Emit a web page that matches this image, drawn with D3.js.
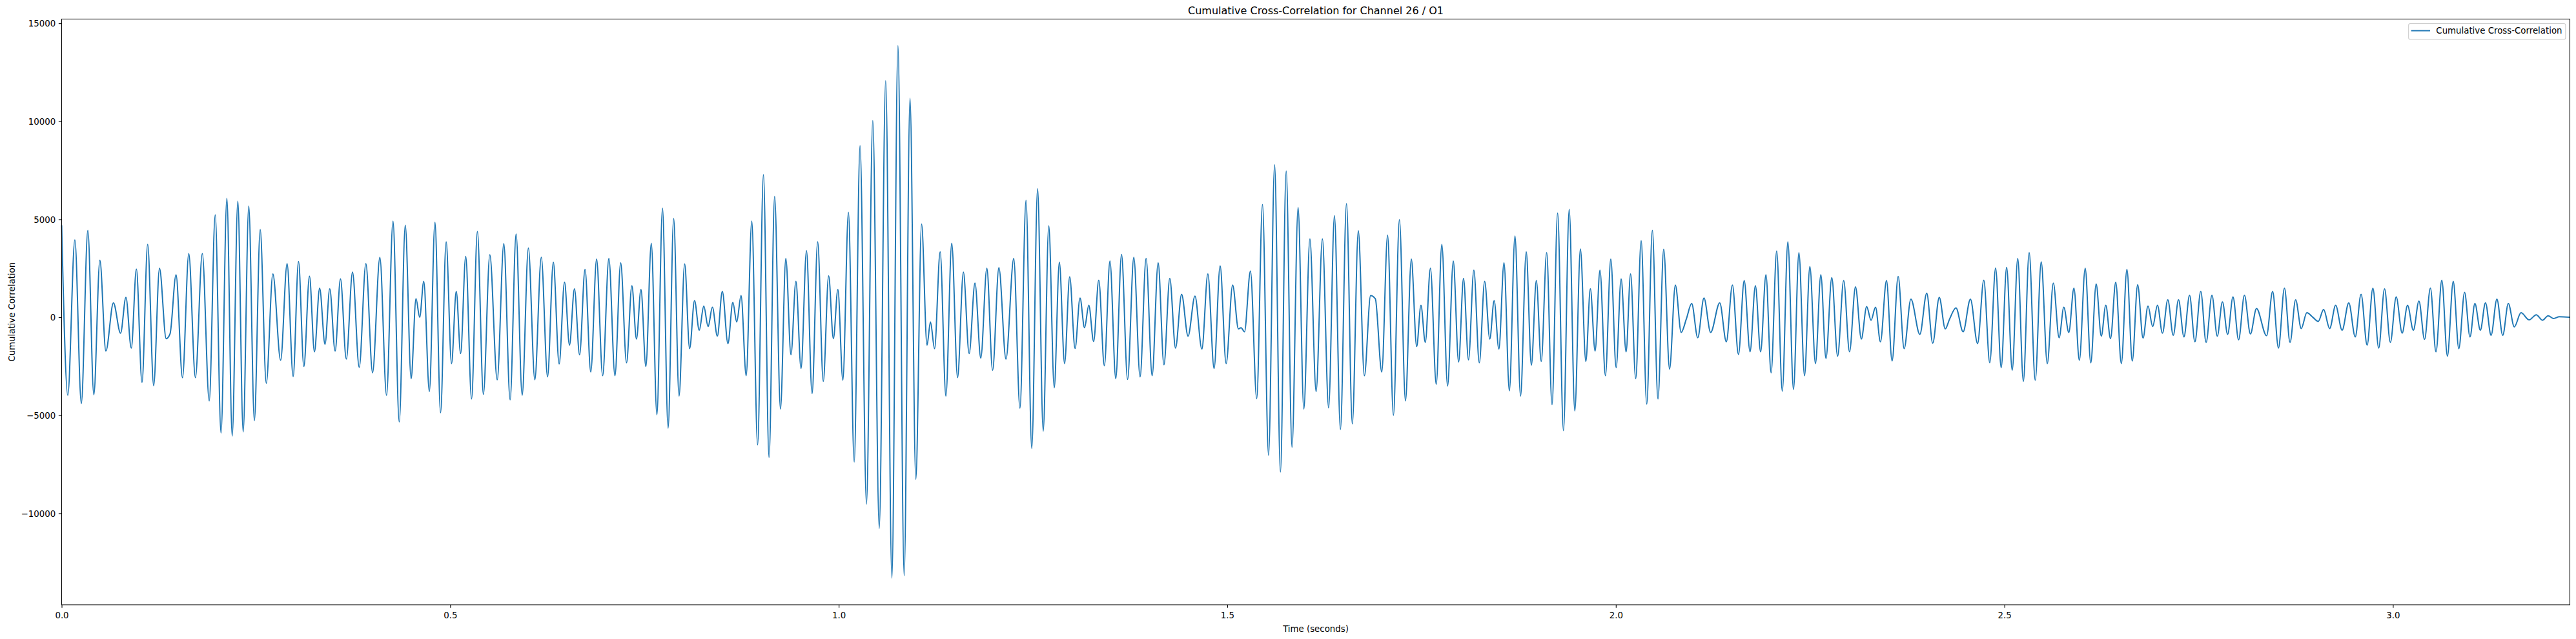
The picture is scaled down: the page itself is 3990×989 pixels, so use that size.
<!DOCTYPE html>
<html>
<head>
<meta charset="utf-8">
<script src="https://cdn.jsdelivr.net/npm/d3@7"></script>
<style>
  html, body { margin: 0; padding: 0; background: #fff; }
  svg { display: block; font-family: "DejaVu Sans", sans-serif; }
</style>
</head>
<body>
<svg width="3990" height="989"></svg>
<script>
// turning points of the trace: [time (s), correlation]
var seg1 = [
  [0.0000, 4700], [0.0079, -3980], [0.0170, 3950], [0.0253, -4400], [0.0337, 4440], [0.0414, -3950],
  [0.0492, 2910], [0.0569, -1720], [0.0666, 740], [0.0758, -810], [0.0827, 1020], [0.0896, -1570],
  [0.0962, 2460], [0.1034, -3320], [0.1107, 3720], [0.1184, -3490], [0.1259, 2500], [0.1345, -1090],
  [0.1395, -840], [0.1472, 2170], [0.1555, -3080], [0.1636, 3250], [0.1721, -3080], [0.1810, 3250],
  [0.1899, -4270], [0.1976, 5230], [0.2051, -5910], [0.2126, 6080], [0.2195, -6060], [0.2267, 5930],
  [0.2336, -5850], [0.2408, 5670], [0.2480, -5280], [0.2555, 4480], [0.2633, -3360], [0.2718, 2210],
  [0.2818, -2190], [0.2901, 2740], [0.2979, -3020], [0.3048, 2850], [0.3117, -2510], [0.3189, 2100],
  [0.3253, -1760], [0.3320, 1490], [0.3389, -1380], [0.3450, 1450], [0.3519, -1720], [0.3588, 1960],
  [0.3663, -2130], [0.3743, 2300], [0.3829, -2550], [0.3915, 2740], [0.4001, -2830]
];
var seg2 = [
  [0.4095, 3060], [0.4181, -3980], [0.4264, 4910], [0.4344, -5340], [0.4422, 4700], [0.4497, -3130],
  [0.4560, 950], [0.4607, 0], [0.4660, 1830], [0.4732, -3790], [0.4804, 4850], [0.4876, -4870],
  [0.4948, 3850], [0.5017, -2360], [0.5078, 1320], [0.5134, -1850], [0.5200, 3110], [0.5275, -4170],
  [0.5350, 4380], [0.5427, -3930], [0.5510, 3190], [0.5605, -3190], [0.5690, 3760], [0.5771, -4210],
  [0.5848, 4250], [0.5926, -3980], [0.6006, 3530], [0.6089, -3190], [0.6172, 3060], [0.6253, -3040],
  [0.6327, 2810], [0.6402, -2380], [0.6471, 1790], [0.6535, -1420], [0.6599, 1450], [0.6665, -1910],
  [0.6735, 2440], [0.6809, -2790], [0.6884, 2970], [0.6962, -2980], [0.7042, 3000], [0.7120, -2980],
  [0.7194, 2780], [0.7269, -2320], [0.7338, 1610], [0.7397, -1110], [0.7455, 1420], [0.7518, -2510],
  [0.7588, 3780], [0.7660, -4970], [0.7732, 5570], [0.7804, -5660], [0.7876, 5040], [0.7945, -4020],
  [0.8017, 2720]
];
var seg3 = [
  [0.8081, -1600], [0.8144, 850], [0.8205, -660], [0.8263, 570], [0.8319, -470], [0.8374, 510],
  [0.8438, -960], [0.8502, 1320], [0.8574, -1340], [0.8637, 760], [0.8687, -240], [0.8743, 1110],
  [0.8809, -2980], [0.8881, 4910], [0.8956, -6510], [0.9031, 7270], [0.9103, -7150], [0.9175, 6170],
  [0.9250, -4680], [0.9319, 3000], [0.9385, -1910], [0.9449, 1830], [0.9515, -2610], [0.9585, 3400],
  [0.9657, -3890], [0.9729, 3850], [0.9801, -3270], [0.9870, 2110], [0.9931, -1090], [0.9989, 1420],
  [1.0053, -3210], [1.0125, 5360], [1.0199, -7380], [1.0274, 8760], [1.0357, -9530], [1.0438, 10030],
  [1.0521, -10780], [1.0604, 12070], [1.0684, -13310], [1.0762, 13860], [1.0842, -13180], [1.0917, 11180],
  [1.0992, -8270], [1.1066, 4760], [1.1136, -1420], [1.1180, -240], [1.1233, -1600], [1.1305, 3340],
  [1.1379, -4020], [1.1454, 3780], [1.1529, -3080], [1.1604, 2300], [1.1678, -1850], [1.1753, 1740],
  [1.1828, -2080], [1.1906, 2500], [1.1980, -2700], [1.2061, 2530]
];
var seg4 = [
  [1.2152, -2130], [1.2252, 3000], [1.2332, -4640], [1.2410, 5970], [1.2484, -6700], [1.2559, 6560],
  [1.2631, -5810], [1.2703, 4670], [1.2773, -3600], [1.2839, 2810], [1.2906, -2360], [1.2972, 2060],
  [1.3041, -1590], [1.3105, 980], [1.3163, -530], [1.3218, 610], [1.3280, -1230], [1.3346, 1890],
  [1.3418, -2470], [1.3490, 2870], [1.3565, -3130], [1.3639, 3210], [1.3717, -3170], [1.3797, 3060],
  [1.3878, -3040], [1.3955, 3000], [1.4033, -2980], [1.4110, 2780], [1.4185, -2420], [1.4260, 1980],
  [1.4334, -1570], [1.4412, 1170], [1.4495, -960], [1.4584, 1080], [1.4673, -1620], [1.4750, 2210],
  [1.4830, -2610], [1.4908, 2620], [1.4985, -2360], [1.5069, 1640], [1.5143, -590], [1.5177, -530],
  [1.5221, -740], [1.5298, 2360], [1.5379, -4150], [1.5453, 5760], [1.5531, -7040], [1.5609, 7780],
  [1.5684, -7890], [1.5758, 7460], [1.5833, -6630], [1.5911, 5610], [1.5985, -4680], [1.6063, 4000]
];
var seg5 = [
  [1.6143, -3790], [1.6224, 4000], [1.6304, -4620], [1.6379, 5190], [1.6456, -5720], [1.6534, 5800],
  [1.6609, -5440], [1.6686, 4420], [1.6764, -2980], [1.6844, 1110], [1.6905, 950], [1.6988, -2790],
  [1.7063, 4190], [1.7138, -5000], [1.7215, 4980], [1.7293, -4270], [1.7368, 2970], [1.7437, -1490],
  [1.7492, 610], [1.7548, -1280], [1.7614, 2500], [1.7689, -3420], [1.7761, 3720], [1.7835, -3510],
  [1.7908, 2870], [1.7977, -2280], [1.8040, 1980], [1.8104, -2170], [1.8173, 2400], [1.8243, -2320],
  [1.8312, 1830], [1.8378, -1110], [1.8434, 850], [1.8495, -1620], [1.8561, 2780], [1.8630, -3750],
  [1.8702, 4150], [1.8774, -4020], [1.8847, 3340], [1.8913, -2440], [1.8977, 1870], [1.9040, -2250],
  [1.9110, 3300], [1.9179, -4460], [1.9251, 5320], [1.9326, -5780], [1.9400, 5510], [1.9472, -4780],
  [1.9544, 3490], [1.9614, -2250], [1.9672, 1450], [1.9733, -1720], [1.9796, 2400], [1.9866, -2980],
  [1.9935, 2970], [2.0004, -2570], [2.0068, 1960], [2.0132, -1760]
];
var seg6 = [
  [2.0190, 2210], [2.0256, -3130], [2.0326, 3910], [2.0398, -4430], [2.0470, 4440], [2.0542, -4170],
  [2.0616, 3470], [2.0691, -2640], [2.0766, 1640], [2.0841, -770], [2.0907, -90], [2.0976, 700],
  [2.1054, -1040], [2.1134, 980], [2.1220, -770], [2.1337, 740], [2.1422, -1250], [2.1500, 1640],
  [2.1578, -1890], [2.1652, 1870], [2.1727, -1760], [2.1796, 1610], [2.1863, -1760], [2.1932, 2170],
  [2.1998, -2830], [2.2070, 3380], [2.2142, -3770], [2.2214, 3850], [2.2286, -3680], [2.2356, 3300],
  [2.2428, -2980], [2.2497, 2590], [2.2569, -2360], [2.2638, 2170], [2.2704, -2100], [2.2779, 2020],
  [2.2854, -1980], [2.2932, 1870], [2.3007, -1760], [2.3084, 1550], [2.3159, -1110], [2.3228, 550],
  [2.3284, -150], [2.3342, 510], [2.3405, -1250], [2.3483, 1870], [2.3555, -2230], [2.3633, 2080],
  [2.3710, -1600], [2.3797, 930], [2.3912, -870], [2.4001, 1230], [2.4078, -1320], [2.4162, 1020]
];
var seg7 = [
  [2.4239, -590], [2.4295, -90], [2.4377, 480], [2.4469, -740], [2.4563, 930], [2.4655, -1340],
  [2.4735, 1890], [2.4812, -2320], [2.4887, 2510], [2.4959, -2570], [2.5029, 2550], [2.5101, -2700],
  [2.5172, 3000], [2.5244, -3270], [2.5319, 3300], [2.5397, -3210], [2.5474, 2830], [2.5552, -2360],
  [2.5630, 1740], [2.5704, -1040], [2.5765, 510], [2.5829, -770], [2.5895, 1490], [2.5965, -2190],
  [2.6040, 2500], [2.6112, -2320], [2.6181, 1700], [2.6247, -960], [2.6305, 610], [2.6366, -1090],
  [2.6433, 1790], [2.6505, -2360], [2.6577, 2440], [2.6646, -2230], [2.6715, 1660], [2.6784, -1060],
  [2.6848, 570], [2.6909, -470], [2.6970, 610], [2.7034, -810], [2.7103, 890], [2.7173, -920],
  [2.7241, 890], [2.7311, -1000], [2.7383, 1120], [2.7452, -1250], [2.7527, 1320], [2.7596, -1280],
  [2.7671, 1120], [2.7740, -960], [2.7806, 790], [2.7873, -870], [2.7942, 1040], [2.8014, -1150],
  [2.8089, 1120], [2.8166, -850], [2.8244, 450]
];
var seg8 = [
  [2.8374, -940], [2.8452, 1320], [2.8527, -1570], [2.8604, 1490], [2.8676, -1280], [2.8748, 890],
  [2.8820, -570], [2.8892, 230], [2.8970, 0], [2.9039, -210], [2.9108, 400], [2.9186, -570],
  [2.9263, 610], [2.9346, -660], [2.9432, 740], [2.9515, -1000], [2.9590, 1170], [2.9668, -1420],
  [2.9742, 1490], [2.9817, -1570], [2.9892, 1450], [2.9967, -1280], [3.0042, 1040], [3.0119, -810],
  [3.0188, 610], [3.0263, -660], [3.0335, 830], [3.0407, -1130], [3.0482, 1490], [3.0554, -1760],
  [3.0629, 1890], [3.0701, -1980], [3.0776, 1830], [3.0848, -1600], [3.0922, 1270], [3.0992, -1000],
  [3.1055, 700], [3.1125, -660], [3.1191, 740], [3.1263, -920], [3.1338, 930], [3.1413, -920],
  [3.1485, 700], [3.1562, -490], [3.1648, 230], [3.1753, -130], [3.1845, 130], [3.1925, -150],
  [3.1997, 80], [3.2066, -60], [3.2141, 30], [3.2277, 0]
];

var xTicks = [0, 0.5, 1.0, 1.5, 2.0, 2.5, 3.0];
var yTicks = [-10000, -5000, 0, 5000, 10000, 15000];
var titleText = "Cumulative Cross-Correlation for Channel 26 / O1";
var xLabelText = "Time (seconds)";
var yLabelText = "Cumulative Correlation";
var legendText = "Cumulative Cross-Correlation";

var data = seg1.concat(seg2, seg3, seg4, seg5, seg6, seg7, seg8);

var svg = d3.select("svg"),
    width = +svg.attr("width"),
    height = +svg.attr("height");

var margin = {top: 29.5, right: 9.5, bottom: 53, left: 95.5};
var x0 = margin.left, x1 = width - margin.right,
    yTop = margin.top, yBot = height - margin.bottom;

var x = d3.scaleLinear()
    .domain([0, d3.max(data, d => d[0])])
    .range([x0, x1]);

// matplotlib style 5% padding around the data
var ext = d3.extent(data, d => d[1]);
var pad = (ext[1] - ext[0]) * 0.05;
var y = d3.scaleLinear()
    .domain([ext[0] - pad, ext[1] + pad])
    .range([yBot, yTop]);

var fs = 13.33, tickLen = 4.67, tickPad = 4.67;

// the trace
var line = d3.line()
    .x(d => x(d[0]))
    .y(d => y(d[1]))
    .curve(d3.curveMonotoneX);

svg.append("path")
    .datum(data)
    .attr("fill", "none")
    .attr("stroke", "#1f77b4")
    .attr("stroke-width", 2)
    .attr("stroke-linejoin", "round")
    .attr("stroke-linecap", "butt")
    .attr("d", line);

// x axis
var gx = svg.append("g")
    .attr("transform", `translate(0,${yBot})`)
    .call(d3.axisBottom(x).tickValues(xTicks).tickFormat(d3.format(".1f"))
        .tickSize(tickLen).tickPadding(tickPad));
gx.select(".domain").remove();
gx.selectAll("line").attr("stroke", "#000").attr("stroke-width", 1.07);
gx.selectAll("text").attr("fill", "#000").attr("dy", "0.9em")
    .style("font-size", fs + "px").style("font-family", "DejaVu Sans");

// y axis
var gy = svg.append("g")
    .attr("transform", `translate(${x0},0)`)
    .call(d3.axisLeft(y).tickValues(yTicks).tickFormat(d3.format("d"))
        .tickSize(tickLen).tickPadding(tickPad));
gy.select(".domain").remove();
gy.selectAll("line").attr("stroke", "#000").attr("stroke-width", 1.07);
gy.selectAll("text").attr("fill", "#000").attr("dy", "0.35em")
    .style("font-size", fs + "px").style("font-family", "DejaVu Sans");

// frame (all four spines)
svg.append("rect")
    .attr("x", x0).attr("y", yTop)
    .attr("width", x1 - x0).attr("height", yBot - yTop)
    .attr("fill", "none")
    .attr("stroke", "#000")
    .attr("stroke-width", 1.07);

// title and axis labels
svg.append("text")
    .attr("x", (x0 + x1) / 2).attr("y", 22)
    .attr("text-anchor", "middle")
    .style("font-size", "16px")
    .text(titleText);

svg.append("text")
    .attr("x", (x0 + x1) / 2).attr("y", 978)
    .attr("text-anchor", "middle")
    .style("font-size", fs + "px")
    .text(xLabelText);

svg.append("text")
    .attr("transform", `translate(22.5,${(yTop + yBot) / 2}) rotate(-90)`)
    .attr("text-anchor", "middle")
    .style("font-size", fs + "px")
    .text(yLabelText);

// legend, upper right
var legend = svg.append("g");
var boxRight = x1 - 6.67, boxTop = yTop + 7;
var legendBox = legend.append("rect")
    .attr("y", boxTop)
    .attr("height", 24.5)
    .attr("rx", 2.67)
    .attr("fill", "#fff")
    .attr("fill-opacity", 0.8)
    .attr("stroke", "#cccccc")
    .attr("stroke-width", 1.07);
var legendLabel = legend.append("text")
    .attr("y", boxTop + 15.8)
    .style("font-size", fs + "px")
    .text(legendText);
var tw = legendLabel.node().getComputedTextLength();
var textX = boxRight - 5.33 - tw;
var boxLeft = textX - 42.67;
legendLabel.attr("x", textX);
legendBox.attr("x", boxLeft).attr("width", boxRight - boxLeft);
legend.append("line")
    .attr("x1", boxLeft + 4).attr("x2", boxLeft + 33.3)
    .attr("y1", boxTop + 11).attr("y2", boxTop + 11)
    .attr("stroke", "#1f77b4")
    .attr("stroke-width", 2);
</script>
</body>
</html>
